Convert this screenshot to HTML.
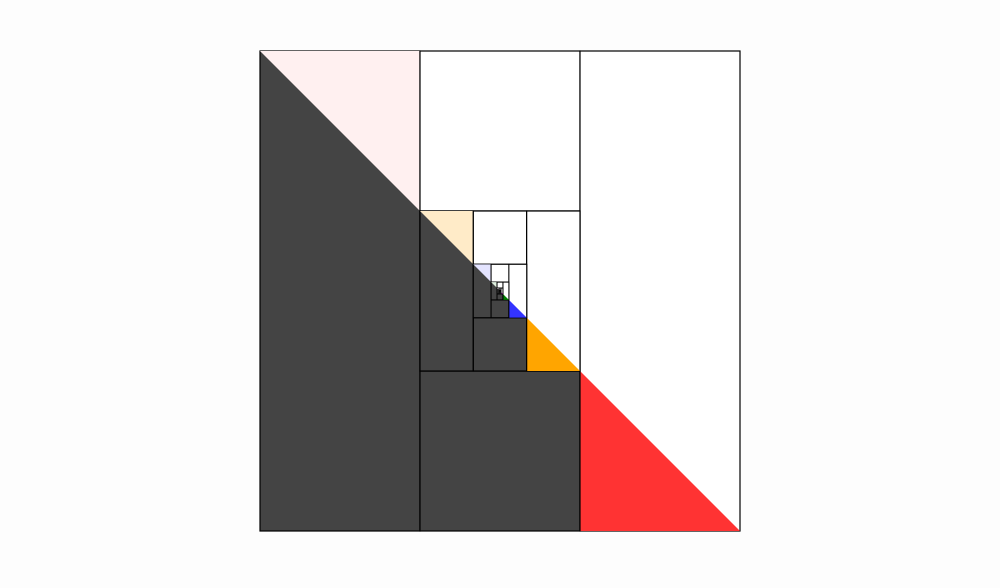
<!DOCTYPE html>
<html><head><meta charset="utf-8"><style>html,body{margin:0;background:#fdfdfd;width:1000px;height:588px;overflow:hidden}</style></head>
<body>
<svg id="fig" width="1000" height="588" xmlns="http://www.w3.org/2000/svg"></svg>
<script>
const levelColors = ["#ff3333", "#ffa500", "#3333ff", "#008000", "#800080", "#008080"];
const lightColors = ["#fff0f0", "#ffebc8", "#e4e4ff", "#e0f0e0", "#f0e0f0", "#e0f0f0"];
const levelCount = 6;
const svg = document.getElementById('fig');
const NS = 'http://www.w3.org/2000/svg';
function add(tag, attrs, name) {
  const e = document.createElementNS(NS, tag);
  for (const k in attrs) e.setAttribute(k, attrs[k]);
  
  
  svg.appendChild(e);
  return e;
}
let x = 260, y = 51, s = 480;
add('rect', {x:x, y:y, width:s, height:s, fill:'#fff', stroke:'#000', 'stroke-width':1}, 'outer-square');
for (let i = 0; i < levelCount; i++) {
  const t = s / 3;
  const st = { stroke:'#000', 'stroke-width': i < 2 ? 1.2 : 1 };
  add('rect', Object.assign({x:x, y:y, width:t, height:s, fill:'#444'}, st), 'left-column-' + i);
  add('polygon', {points:`${x},${y} ${x+t},${y} ${x+t},${y+t}`, fill:lightColors[i]}, 'light-triangle-' + i);
  add('line', Object.assign({x1:x+t, y1:y, x2:x+t, y2:y+s}, st), 'left-divider-' + i);
  add('rect', Object.assign({x:x+t, y:y, width:t, height:t, fill:'#fff'}, st), 'top-middle-cell-' + i);
  add('rect', Object.assign({x:x+t, y:y+2*t, width:t, height:t, fill:'#444'}, st), 'bottom-middle-cell-' + i);
  add('rect', Object.assign({x:x+2*t, y:y, width:t, height:s, fill:'#fff'}, st), 'right-column-' + i);
  add('polygon', {points:`${x+2*t},${y+2*t} ${x+2*t},${y+s} ${x+s},${y+s}`, fill:levelColors[i]}, 'color-triangle-' + i);
  add('line', Object.assign({x1:x+2*t, y1:y+2*t, x2:x+2*t, y2:y+s}, st), 'divider-' + i);
  add('rect', Object.assign({x:x+t, y:y+t, width:t, height:t, fill:'#fff'}, st), 'center-cell-' + i);
  x += t; y += t; s = t;
}
add('polygon', {points:`${x},${y} ${x},${y+s} ${x+s},${y+s}`, fill:'#444'}, 'center-remainder');
</script>
</body></html>
